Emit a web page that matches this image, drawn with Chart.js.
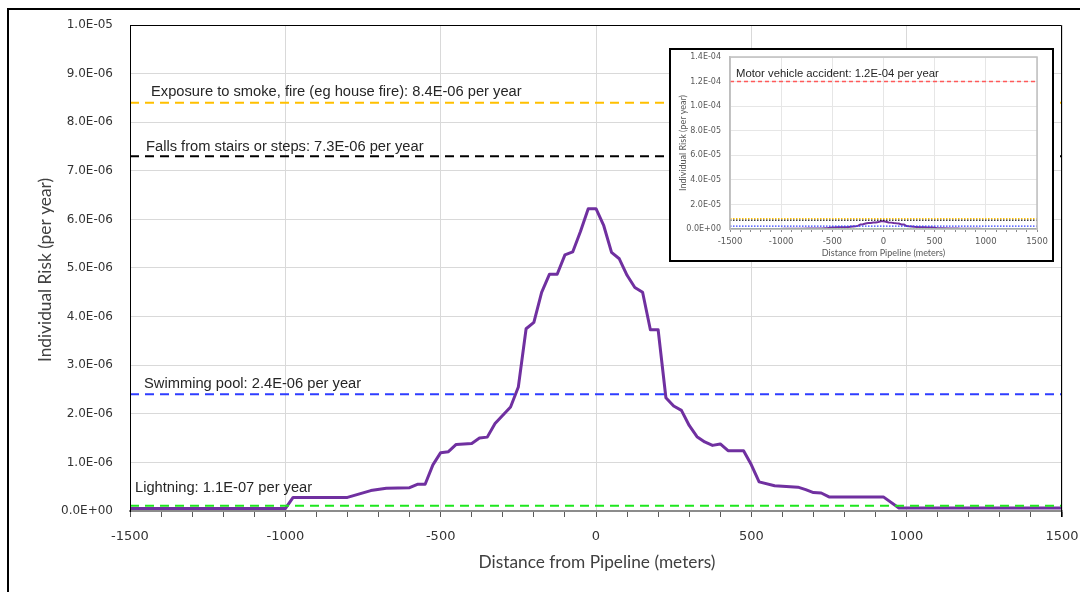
<!DOCTYPE html>
<html><head><meta charset="utf-8">
<script src="https://cdn.jsdelivr.net/npm/chart.js@4"></script>
<style>
html,body{margin:0;padding:0;background:#fff;}
#wrap{position:relative;width:1080px;height:592px;overflow:hidden;}
#frame{position:absolute;left:7px;top:8px;width:1100px;height:600px;border-left:2px solid #000;border-top:2px solid #000;}
#main{position:absolute;left:0;top:0;}
#insetBox{position:absolute;left:669px;top:48px;width:381px;height:210px;border:2px solid #000;background:#fff;}
#inset{position:absolute;left:0;top:0;}
</style></head>
<body>
<div id="wrap">
  <div id="frame"></div>
  <canvas id="main" width="1080" height="592"></canvas>
  <div id="insetBox"><canvas id="inset" width="381" height="210"></canvas></div>
</div>
<script>
// ---- data ----
const distances = [-1500, -1000, -975, -800, -725, -675, -600, -575, -550, -525, -500, -475, -450, -400, -375, -350, -325, -300, -275, -250, -225, -200, -175, -150, -125, -100, -75, -50, -25, 0, 25, 50, 75, 100, 125, 150, 175, 200, 225, 250, 275, 300, 325, 350, 375, 400, 425, 475, 500, 525, 575, 650, 675, 700, 725, 750, 925, 975, 1500];
const individualRisk = [5e-8, 5e-8, 2.8e-7, 2.8e-7, 4.2e-7, 4.7e-7, 4.8e-7, 5.5e-7, 5.5e-7, 9.5e-7, 1.2e-6, 1.22e-6, 1.37e-6, 1.39e-6, 1.5e-6, 1.52e-6, 1.8e-6, 1.97e-6, 2.14e-6, 2.55e-6, 3.75e-6, 3.88e-6, 4.5e-6, 4.87e-6, 4.87e-6, 5.27e-6, 5.33e-6, 5.75e-6, 6.22e-6, 6.22e-6, 5.87e-6, 5.32e-6, 5.19e-6, 4.85e-6, 4.6e-6, 4.5e-6, 3.73e-6, 3.73e-6, 2.33e-6, 2.16e-6, 2.07e-6, 1.76e-6, 1.53e-6, 1.42e-6, 1.35e-6, 1.38e-6, 1.24e-6, 1.24e-6, 9.5e-7, 6e-7, 5.2e-7, 4.9e-7, 4.4e-7, 3.8e-7, 3.7e-7, 2.9e-7, 2.9e-7, 6e-8, 6e-8];
const refNames = ["Exposure to smoke, fire (eg house fire): 8.4E-06 per year", "Falls from stairs or steps: 7.3E-06 per year", "Swimming pool: 2.4E-06 per year", "Lightning: 1.1E-07 per year"];
const refValues = [8.4e-6, 7.3e-6, 2.4e-6, 1.1e-7];
const refColors = ["#FFC000", "#000000", "#2F3DFF", "#1EE61E"];
const insetRefName = "Motor vehicle accident: 1.2E-04 per year";
const insetRefValue = 1.2e-4;
const insetRefColor = "#FF5A5A";
const xRange = [-1500, 1500];
const xTitle = "Distance from Pipeline (meters)";
const yTitle = "Individual Risk (per year)";

// ---- styles (not data) ----
const labelDx = [21, 16, 14, 5];
const labelDy = [10.7, 9.4, 10.5, 18];

function sci(v) {
  if (Math.abs(v) < 1e-20) return "0.0E+00";
  const parts = v.toExponential(1).split("e");
  const n = parseInt(parts[1], 10);
  return parts[0] + "E" + (n < 0 ? "-" : "+") + String(Math.abs(n)).padStart(2, "0");
}
const curve = distances.map((x, i) => ({x: x, y: individualRisk[i]}));
const refLine = v => [{x: xRange[0], y: v}, {x: xRange[1], y: v}];
function fixX(h) { return s => { s.height = h; s.paddingLeft = 0; s.paddingRight = 0; }; }
function fixY(w) { return s => { s.width = w; s.paddingTop = 0; s.paddingBottom = 0; }; }

const mainDecor = {
  id: "mainDecor",
  afterDraw(chart) {
    const ctx = chart.ctx, a = chart.chartArea, ys = chart.scales.y;
    ctx.save();
    ctx.strokeStyle = "#000"; ctx.lineWidth = 1;
    ctx.beginPath();
    ctx.moveTo(a.left + 0.5, a.bottom); ctx.lineTo(a.left + 0.5, a.top + 0.5);
    ctx.lineTo(a.right - 0.5, a.top + 0.5); ctx.lineTo(a.right - 0.5, a.bottom + 6);
    ctx.stroke();
    ctx.fillStyle = "#262626";
    ctx.font = "14.7px 'Liberation Sans', Arial, sans-serif";
    ctx.textBaseline = "middle"; ctx.textAlign = "left";
    refNames.forEach((t, i) => {
      ctx.fillText(t, a.left + labelDx[i], ys.getPixelForValue(refValues[i]) - labelDy[i]);
    });
    ctx.fillStyle = "#404040";
    ctx.font = "17.3px Lato, sans-serif";
    ctx.textAlign = "center";
    ctx.fillText(xTitle, (a.left + a.right) / 2 + 1, 562);
    ctx.translate(45, (a.top + a.bottom) / 2 + 2);
    ctx.rotate(-Math.PI / 2);
    ctx.fillText(yTitle, 0, 0);
    ctx.restore();
  }
};

const mainDatasets = refValues.map((v, i) => ({
  data: refLine(v), borderColor: refColors[i], borderWidth: 2, borderDash: [9, 6],
  pointRadius: 0, fill: false
}));
mainDatasets.push({data: curve, borderColor: "#7030A0", borderWidth: 3, pointRadius: 0, fill: false, tension: 0, borderJoinStyle: "round"});

new Chart(document.getElementById("main"), {
  type: "line",
  data: {datasets: mainDatasets},
  options: {
    responsive: false, animation: false, devicePixelRatio: 1,
    layout: {padding: {left: 8, right: 18, top: 25, bottom: 0}},
    plugins: {legend: {display: false}, tooltip: {enabled: false}},
    scales: {
      x: {
        type: "linear", min: xRange[0], max: xRange[1],
        afterFit: fixX(81),
        ticks: {stepSize: 100, autoSkip: false, maxRotation: 0, padding: 12,
          color: "#333", font: {family: "'DejaVu Sans', sans-serif", size: 13},
          callback: v => (v % 500 === 0 ? String(v) : "")},
        grid: {color: c => (c.tick && c.tick.value % 500 === 0 ? "#d9d9d9" : "rgba(0,0,0,0)"),
          tickColor: "#595959", tickLength: 6, lineWidth: 1},
        border: {color: "#8c8c8c", width: 2}
      },
      y: {
        min: 0, max: 1e-5,
        afterFit: fixY(122),
        ticks: {stepSize: 1e-6, padding: 17, color: "#333",
          font: {family: "'DejaVu Sans', sans-serif", size: 12}, callback: v => sci(v)},
        grid: {color: "#d9d9d9", drawTicks: false},
        border: {color: "#000", width: 1}
      }
    }
  },
  plugins: [mainDecor]
});

// ---- inset ----
const insetDecor = {
  id: "insetDecor",
  afterDraw(chart) {
    const ctx = chart.ctx, a = chart.chartArea, ys = chart.scales.y;
    ctx.save();
    ctx.strokeStyle = "#bfbfbf"; ctx.lineWidth = 1.5;
    ctx.strokeRect(a.left, a.top, a.right - a.left, a.bottom - a.top);
    ctx.fillStyle = "#262626";
    ctx.font = "11.3px 'Liberation Sans', Arial, sans-serif";
    ctx.textBaseline = "middle"; ctx.textAlign = "left";
    ctx.fillText(insetRefName, a.left + 6, ys.getPixelForValue(insetRefValue) - 8);
    ctx.fillStyle = "#595959";
    ctx.font = "9px Lato, sans-serif";
    ctx.textAlign = "center";
    ctx.fillText(xTitle, (a.left + a.right) / 2, 203.5);
    ctx.translate(12, (a.top + a.bottom) / 2);
    ctx.rotate(-Math.PI / 2);
    ctx.fillText(yTitle, 0, 0);
    ctx.restore();
  }
};
const insetDatasets = [{data: refLine(insetRefValue), borderColor: insetRefColor, borderWidth: 1.5, borderDash: [4, 3], pointRadius: 0}];
refValues.forEach((v, i) => insetDatasets.push({data: refLine(v), borderColor: refColors[i], borderWidth: 1.2, borderDash: [1.5, 1.5], pointRadius: 0}));
insetDatasets.push({data: curve, borderColor: "#7030A0", borderWidth: 2, pointRadius: 0, tension: 0});

new Chart(document.getElementById("inset"), {
  type: "line",
  data: {datasets: insetDatasets},
  options: {
    responsive: false, animation: false, devicePixelRatio: 1,
    layout: {padding: {left: 0, right: 15, top: 7, bottom: 0}},
    plugins: {legend: {display: false}, tooltip: {enabled: false}},
    scales: {
      x: {
        type: "linear", min: xRange[0], max: xRange[1],
        afterFit: fixX(31),
        ticks: {stepSize: 100, autoSkip: false, maxRotation: 0, padding: 5,
          color: "#595959", font: {family: "'DejaVu Sans', sans-serif", size: 8.5},
          callback: v => (v % 500 === 0 ? String(v) : "")},
        grid: {color: c => (c.tick && c.tick.value % 500 === 0 ? "#e6e6e6" : "rgba(0,0,0,0)"),
          tickColor: "#8c8c8c", tickLength: 3},
        border: {color: "#bfbfbf", width: 1.5}
      },
      y: {
        min: 0, max: 1.4e-4,
        afterFit: fixY(59),
        ticks: {stepSize: 2e-5, padding: 9, color: "#595959",
          font: {family: "'DejaVu Sans', sans-serif", size: 8}, callback: v => sci(v)},
        grid: {color: "#e6e6e6", drawTicks: false},
        border: {color: "#bfbfbf", width: 1.5}
      }
    }
  },
  plugins: [insetDecor]
});
</script>
</body></html>
